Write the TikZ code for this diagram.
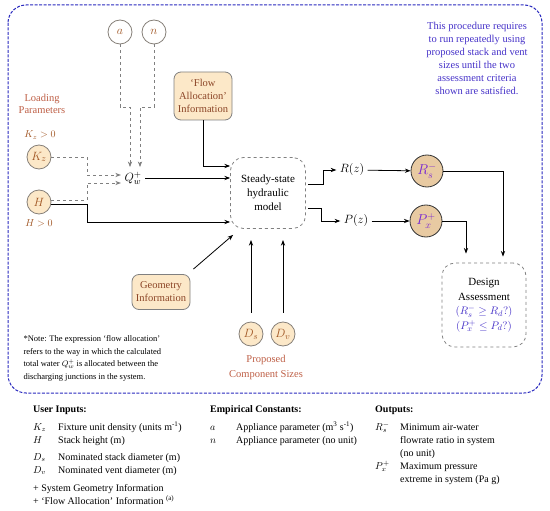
\documentclass[tikz,border=0pt]{standalone}
\usepackage{fontspec}
\setmainfont{Liberation Serif}
\usetikzlibrary{arrows.meta,positioning}
\definecolor{frameblue}{RGB}{40,40,190}
\definecolor{noteblue}{RGB}{70,50,200}
\definecolor{outviolet}{RGB}{120,40,210}
\definecolor{inbrown}{RGB}{160,85,35}
\definecolor{lblbrown}{RGB}{190,95,70}
\definecolor{boxbrown}{RGB}{140,70,40}
\definecolor{infill}{RGB}{252,232,200}
\definecolor{outfill}{RGB}{232,202,162}

\begin{document}
\begin{tikzpicture}[x=1pt,y=-1pt,every node/.style={font=\fontsize{10}{13}\selectfont},
 inp/.style={circle,draw=gray!90!brown,thick,fill=infill,minimum size=24pt,inner sep=0pt,text=inbrown,font=\fontsize{13}{14}\selectfont},
 outp/.style={circle,draw=black!80,thick,fill=outfill,minimum size=32pt,inner sep=0pt,text=outviolet,font=\fontsize{14}{15}\selectfont},
 info/.style={draw=gray,thick,rounded corners=7pt,fill=infill,align=center,text=boxbrown,inner sep=2pt,font=\fontsize{10.5}{13}\selectfont},
 proc/.style={draw=gray,dashed,thick,rounded corners=13pt,align=center,font=\fontsize{11}{14}\selectfont},
 arr/.style={-{Stealth[length=2mm]},thick},
 darr/.style={-{Stealth[length=2mm]},gray,dashed,thick},
 lbl/.style={text=lblbrown,align=center,font=\fontsize{10.5}{12}\selectfont},
 big/.style={font=\fontsize{12.5}{14}\selectfont}]
\useasboundingbox (0,0) rectangle (550,511);
% frame round the procedure
\draw[frameblue,line width=1pt,dash pattern=on 3pt off 1.5pt,rounded corners=18pt] (8,5) rectangle (542,393);
\node[align=center,text=noteblue,font=\fontsize{10.5}{13}\selectfont] (rerun) at (477,58) {This procedure requires\\to run repeatedly using\\proposed stack and vent\\sizes until the two\\assessment criteria\\shown are satisfied.};

% inputs
\node[inp,fill=white] (a) at (120,32) {$a$};
\node[inp,fill=white] (n) at (154,32) {$n$};
\node[big] (q) at (133,178) {$Q_w^+$};
\node[lbl] (load) at (42,104) {Loading\\Parameters};
\node[text=inbrown] (kzc) at (40,135) {$K_z>0$};
\node[inp] (kz) at (39,157) {$K_z$};
\node[inp] (h) at (39,202) {$H$};
\node[text=inbrown] (hc) at (39,223) {$H>0$};
\node[info,minimum width=58pt,minimum height=48pt] (flow) at (203,96) {‘Flow\\Allocation’\\Information};
\node[info,minimum width=58pt,minimum height=35pt] (geo) at (161,292) {Geometry\\Information};
\node[inp] (ds) at (251,334) {$D_s$};
\node[inp] (dv) at (283,334) {$D_v$};
\node[lbl,font=\fontsize{10.5}{15}\selectfont] (sizes) at (266,367) {Proposed\\Component Sizes};

% model and outputs
\node[proc,minimum width=75pt,minimum height=71pt] (model) at (268,193) {Steady-state\\hydraulic\\model};
\node[big] (rz) at (352,170) {$R(z)$};
\node[big] (pz) at (356,221) {$P(z)$};
\node[outp] (rs) at (427,171) {$R_s^-$};
\node[outp] (px) at (426,221) {$P_x^+$};
\node[proc,minimum width=84pt,minimum height=84pt,font=\fontsize{11}{14.5}\selectfont] (design) at (484,305) {Design\\Assessment\\\textcolor{noteblue}{$(R_s^-\geq R_d?)$}\\\textcolor{noteblue}{$(P_x^+\leq P_d?)$}};

\node[align=left,anchor=north west,font=\fontsize{8.5}{12.6}\selectfont] (note) at (20,332) {*Note: The expression ‘flow allocation’\\refers to the way in which the calculated\\total water $Q_w^+$ is allocated between the\\discharging junctions in the system.};

\coordinate (qa) at (130,107);
\coordinate (qn) at (140,107);
\draw[darr,shorten >=1pt] (a.south) |- (qa) -- (qa |- q.north);
\draw[darr,shorten >=1pt] (n.south) |- (qn) -- (qn |- q.north);
\draw[darr] (kz.east) -- (87,157) |- ([yshift=3pt]q.west);
\draw[darr] ([yshift=2pt]h.east) -- (87,200) |- ([yshift=-5pt]q.west);
\draw[arr] ([yshift=-2pt]h.east) -- (87,204) |- (model.west |- 0,222);
\draw[arr] (flow.south) |- (model.west |- 0,166);
\draw[arr] (q.east) -- (model.west |- q);
\draw[arr] ([xshift=3pt,yshift=5pt]geo.north east) -- ([xshift=3pt,yshift=-6pt]model.south west);
\draw[arr,shorten <=9pt] (ds.north) -- (ds |- 0,240);
\draw[arr,shorten <=9pt] (dv.north) -- (dv |- 0,240);
\draw[arr] ([xshift=2pt,yshift=9pt]model.east) -- ++(15,0) |- (rz.west);
\draw[arr] ([xshift=2pt,yshift=-15pt]model.east) -- ++(13,0) |- (pz.west);
\draw[arr] (rz) -- (rs);
\draw[arr] (pz) -- (px);
\draw[arr] (rs) -| ([xshift=19pt,yshift=6pt]design.north);
\draw[arr] (px) -| ([xshift=-18pt,yshift=9pt]design.north);

% key below the frame
\node[anchor=north west,inner sep=0pt] (user) at (33,403) {\begin{tabular}{@{}p{25pt}@{}l@{}}
\multicolumn{2}{@{}l}{\textbf{User Inputs:}}\\[5pt]
$K_z$ & Fixture unit density (units m\textsuperscript{-1})\\
$H$ & Stack height (m)\\[4pt]
$D_s$ & Nominated stack diameter (m)\\
$D_v$ & Nominated vent diameter (m)\\[5pt]
\multicolumn{2}{@{}l}{+ System Geometry Information}\\
\multicolumn{2}{@{}l}{+ ‘Flow Allocation’ Information \textsuperscript{(a)}}
\end{tabular}};
\node[anchor=north west,inner sep=0pt] (const) at (210,403) {\begin{tabular}{@{}p{26pt}@{}l@{}}
\multicolumn{2}{@{}l}{\textbf{Empirical Constants:}}\\[5pt]
$a$ & Appliance parameter (m\textsuperscript{3} s\textsuperscript{-1})\\
$n$ & Appliance parameter (no unit)
\end{tabular}};
\node[anchor=north west,inner sep=0pt] (outs) at (375,403) {\begin{tabular}{@{}p{25pt}@{}l@{}}
\multicolumn{2}{@{}l}{\textbf{Outputs:}}\\[5pt]
$R_s^-$ & Minimum air-water\\
 & flowrate ratio in system\\
 & (no unit)\\
$P_x^+$ & Maximum pressure\\
 & extreme in system (Pa g)
\end{tabular}};
\end{tikzpicture}
\end{document}
